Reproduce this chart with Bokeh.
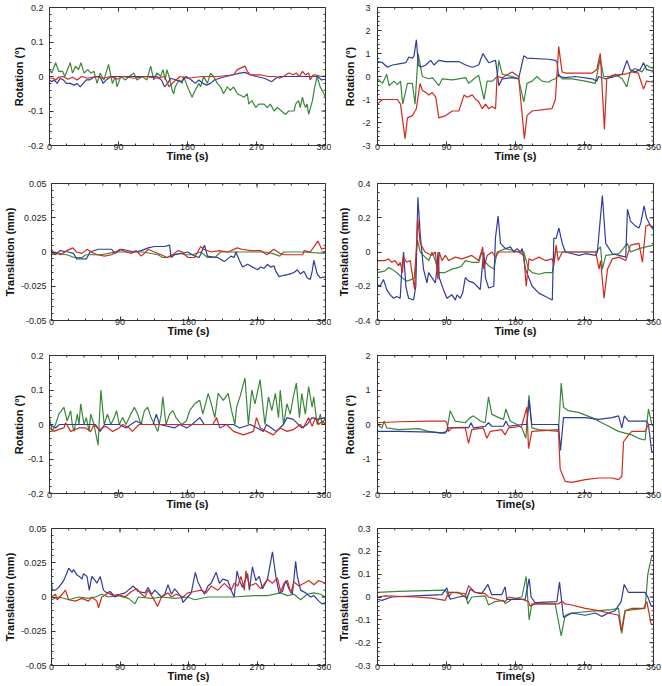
import numpy as np
from bokeh.plotting import figure
from bokeh.models import FixedTicker, CustomJSTickFormatter, Range1d
from bokeh.layouts import column, row
from bokeh.embed import file_html
from bokeh.resources import INLINE

RED = "#d0291e"
GREEN = "#3a873a"
BLUE = "#2f3b9e"

# ---------------- tick labels ----------------
time_ticks = [0, 90, 180, 270, 360]
rot_small_ticks = [-0.2, -0.1, 0, 0.1, 0.2]
rot_big3_ticks = [-3, -2, -1, 0, 1, 2, 3]
rot_big2_ticks = [-2, -1, 0, 1, 2]
tr_small_ticks = [-0.05, -0.025, 0, 0.025, 0.05]
tr_big4_ticks = [-0.4, -0.2, 0, 0.2, 0.4]
tr_big3_ticks = [-0.3, -0.2, -0.1, 0, 0.1, 0.2, 0.3]

# ---------------- data: [time (s), value] ----------------
# Panel 1: rotation (deg), row 1 left
p1_red = [[0,-0.005],[5,-0.005],[8,-0.01],[12,-0.002],[18,0.0],[24,-0.008],[30,-0.002],[36,-0.01],[42,0.0],[50,-0.005],[60,0.0],[70,-0.005],[80,0.0],[88,-0.008],[95,0.0],[110,-0.005],[125,0.0],[140,-0.005],[150,0.0],[156,-0.03],[160,-0.02],[165,-0.01],[170,0.0],[180,-0.005],[200,0.0],[220,0.0],[240,0.005],[245,0.02],[250,0.025],[255,0.03],[258,0.015],[262,0.005],[275,0.005],[285,0.0],[295,0.0],[300,-0.005],[305,0.0],[312,0.01],[318,0.005],[322,0.01],[326,0.0],[330,0.015],[334,0.005],[338,0.01],[340,-0.01],[344,0.005],[350,0.003],[355,0.0],[360,0.002]]
p1_green = [[0,0.02],[3,0.01],[8,0.04],[12,0.015],[17,0.015],[20,0.0],[27,0.04],[30,0.01],[34,0.03],[38,0.02],[41,0.04],[45,0.01],[50,0.02],[54,0.01],[58,0.015],[62,-0.02],[66,0.01],[71,-0.01],[77,0.035],[82,-0.02],[86,0.0],[88,-0.03],[93,0.0],[99,-0.01],[104,0.0],[110,0.01],[114,-0.01],[121,0.0],[127,-0.01],[132,0.03],[136,-0.01],[140,0.01],[145,0.0],[148,0.02],[151,-0.01],[153,0.02],[156,0.0],[160,-0.04],[162,-0.05],[164,-0.03],[169,-0.01],[173,-0.02],[175,0.0],[180,-0.03],[186,-0.06],[190,-0.04],[195,-0.02],[197,-0.03],[201,0.0],[206,-0.02],[210,0.01],[214,0.0],[219,-0.02],[223,-0.03],[227,-0.05],[232,-0.03],[236,-0.04],[240,-0.03],[245,-0.05],[254,-0.06],[258,-0.05],[260,-0.08],[264,-0.07],[269,-0.09],[273,-0.08],[280,-0.08],[284,-0.09],[288,-0.08],[293,-0.1],[297,-0.09],[308,-0.11],[312,-0.1],[319,-0.1],[321,-0.08],[325,-0.07],[327,-0.09],[330,-0.06],[332,-0.08],[334,-0.09],[336,-0.08],[338,-0.11],[343,-0.07],[346,-0.03],[349,0.0],[353,-0.03],[358,-0.05],[360,-0.06]]
p1_blue = [[0,-0.01],[3,-0.015],[6,-0.01],[10,-0.02],[14,-0.005],[18,-0.01],[22,-0.02],[27,-0.02],[32,-0.025],[36,-0.02],[40,-0.03],[44,-0.02],[48,-0.01],[52,-0.01],[56,-0.005],[60,0.0],[66,0.0],[70,-0.02],[74,-0.01],[80,0.0],[100,0.0],[120,0.0],[140,0.0],[146,-0.01],[150,-0.03],[154,-0.02],[158,-0.005],[165,-0.01],[172,-0.015],[178,0.0],[185,-0.01],[190,-0.02],[195,-0.01],[200,-0.02],[205,-0.025],[210,-0.02],[215,-0.01],[222,-0.005],[230,0.0],[240,0.005],[248,0.01],[255,0.012],[262,0.005],[270,0.0],[280,-0.005],[285,-0.01],[290,-0.015],[295,-0.005],[300,0.0],[310,0.0],[330,0.0],[340,0.0],[350,0.0],[355,-0.01],[360,-0.008]]

# Panel 2: rotation (deg), row 1 right
p2_red = [[0,-1.2],[6.5,-1.0],[26,-1.0],[30,-1.2],[36,-2.7],[39,-1.8],[45.5,-1.7],[49,-1.5],[50.7,-1.4],[55.5,-0.3],[58.5,-0.6],[63,-0.7],[67,-0.8],[71.5,-0.7],[76,-0.9],[80,-1.8],[89,-1.7],[97.5,-1.5],[106,-1.5],[108,-1.3],[113,-0.8],[117,-0.9],[123.6,-0.8],[128,-1.0],[132,-1.1],[136.6,-1.4],[141,-1.2],[145,-1.4],[149.6,-1.3],[154,-1.4],[156,0.0],[162.6,-0.05],[175.6,0.2],[184,0.0],[191.6,-2.7],[195,-1.7],[201.6,-1.5],[227.5,-1.4],[232,-1.0],[236.4,1.3],[240.7,0.2],[245,0.15],[280,0.15],[286,0.3],[290.6,1.0],[296,-2.3],[299,-0.1],[306,0.05],[323,0.1],[332,0.2],[340,0.15],[347,-0.55],[351,-0.2],[360,-0.25]]
p2_green = [[0,-0.1],[6.5,-0.3],[12,0.1],[15,-0.4],[21.5,-0.2],[26,-0.35],[30,-0.2],[33,-1.2],[39,-0.3],[45.5,-0.3],[49,-1.2],[53,1.0],[58.5,0.0],[67,-0.1],[71.5,-0.05],[80,-0.4],[84.5,-0.1],[97.5,-0.15],[106,-0.1],[115,-0.05],[119,-0.3],[126,-0.1],[132,0.05],[139,-1.0],[143,-0.2],[150,-0.2],[156,0.0],[158.3,0.7],[162.6,0.1],[175.6,0.0],[184,-0.1],[190.8,-1.1],[195,-0.3],[201.6,-0.2],[208,0.0],[214.5,-0.2],[223,-0.25],[227.5,-0.15],[232,-0.1],[236.4,0.1],[240.7,-0.1],[254,-0.1],[271,-0.2],[284,-0.3],[290.6,0.8],[295,0.0],[306,0.0],[310,0.1],[319,-0.1],[325.3,-0.45],[329.6,0.2],[336,0.35],[345,0.2],[351,0.5],[355.4,0.4],[360,0.35]]
p2_blue = [[0,0.65],[6.5,0.6],[13,0.4],[19.5,0.5],[28,0.55],[37,0.6],[41,0.85],[45.5,0.8],[47.7,0.9],[50.7,1.6],[53.3,0.5],[56.4,0.4],[63,0.5],[69.4,0.7],[73.7,0.5],[80,0.7],[89,0.65],[106,0.65],[115,0.5],[123.6,0.4],[132,0.5],[137.5,1.0],[141,0.8],[145,0.6],[149.6,0.65],[154,0.7],[156,0.2],[158.3,-0.4],[162.6,-0.1],[175.6,-0.05],[184,-0.1],[190.8,0.9],[195,0.8],[223,0.75],[232,0.7],[234,0.65],[236.4,0.0],[245,-0.05],[258,0.0],[280,-0.1],[286,-0.2],[288.4,0.0],[297,-0.1],[310,0.0],[319,0.1],[325.3,0.7],[329.6,0.3],[336,0.2],[342.6,0.3],[347,0.6],[351,0.3],[357.8,0.25],[360,0.25]]

# Panel 3: translation (mm), row 2 left
p3_red = [[0,-0.002],[5,0.0],[12,-0.002],[20,0.001],[28,0.003],[33,0.0],[40,-0.001],[47,0.002],[52,0.0],[60,-0.002],[70,-0.003],[79,-0.002],[85,0.0],[90,0.002],[98,0.0],[105,-0.001],[111,0.001],[118,-0.003],[124,0.0],[127,0.002],[135,0.0],[144,-0.002],[152,-0.004],[157,-0.003],[166,0.001],[172,0.0],[179,-0.004],[188,-0.004],[196,0.004],[200,0.002],[210,0.0],[220,0.001],[232,0.0],[244,0.003],[250,0.002],[262,0.001],[275,0.001],[283,-0.002],[292,0.002],[300,-0.001],[305,-0.002],[320,-0.002],[330,-0.002],[332,0.001],[340,0.0],[350,0.008],[355,0.002],[360,0.003]]
p3_green = [[0,-0.002],[10,-0.001],[20,-0.002],[30,-0.004],[40,-0.004],[45,-0.002],[65,-0.002],[75,-0.001],[83,0.0],[100,0.0],[120,0.0],[140,-0.002],[146,-0.004],[152,-0.004],[158,-0.002],[170,-0.001],[175,-0.002],[185,-0.002],[196,0.0],[205,-0.004],[215,-0.004],[222,0.0],[240,0.0],[280,0.0],[290,-0.001],[300,-0.003],[305,0.0],[330,0.0],[360,-0.001]]
p3_blue = [[0,0.002],[4.8,-0.002],[11,0.001],[22,0.0],[29,-0.001],[33,-0.005],[46,-0.005],[50.5,0.0],[61.5,0.002],[79,0.002],[83,-0.001],[92,0.002],[109,0.0],[118,0.001],[127,0.003],[135.5,0.004],[148.6,0.004],[155,0.005],[157.3,-0.004],[161.7,-0.002],[179,0.0],[188,-0.003],[194,-0.004],[201,0.005],[205,-0.003],[218,-0.004],[227,-0.007],[235.8,-0.003],[240,-0.004],[242.3,0.0],[246.7,-0.006],[251,-0.011],[257.6,-0.009],[270.6,-0.013],[275,-0.011],[279.3,-0.012],[283.7,-0.009],[288,-0.011],[292.4,-0.01],[294.6,-0.014],[299,-0.018],[305.5,-0.017],[314,-0.016],[318.6,-0.015],[323,-0.013],[327,-0.016],[331.6,-0.014],[336,-0.019],[340,-0.02],[342.5,-0.014],[344.7,-0.006],[349,-0.016],[353.4,-0.019],[360,-0.018]]

# Panel 4: translation (mm), row 2 right
p4_red = [[0,-0.05],[10,-0.05],[14.4,-0.04],[18.7,-0.06],[23,-0.05],[27.5,-0.08],[29.6,-0.06],[32.7,-0.12],[34,-0.03],[38,-0.06],[42.7,-0.05],[48.4,-0.22],[52.3,0.2],[55.8,0.05],[62,0.0],[71,-0.02],[75.4,0.0],[78.9,-0.16],[80.6,0.0],[84,-0.05],[88.5,-0.02],[93,-0.05],[101.5,-0.03],[110,-0.04],[123,-0.02],[132,-0.05],[137.3,0.03],[138.6,-0.1],[143,-0.02],[149.5,0.0],[154,-0.03],[158,0.0],[184,0.0],[190.8,-0.02],[194,-0.2],[197.5,-0.04],[201.8,-0.05],[210.5,-0.03],[219,-0.05],[228,-0.04],[230,-0.08],[233,0.04],[235.8,-0.05],[241,0.0],[284.6,0.0],[289,-0.1],[291,-0.05],[295.5,-0.27],[300,-0.1],[306.4,-0.04],[315,-0.03],[323.8,-0.05],[330,0.04],[341,0.05],[345.6,-0.06],[350,0.15],[354.4,0.16],[360,0.14]]
p4_green = [[0,-0.12],[10,-0.11],[14.4,-0.09],[18.7,-0.1],[25,-0.12],[31.8,-0.15],[38,-0.17],[44.9,-0.16],[48,-0.15],[52,0.07],[55.8,0.0],[62,-0.03],[67,-0.05],[71,0.0],[75.4,-0.05],[80,-0.12],[88,-0.12],[97,-0.1],[106,-0.09],[110,-0.08],[114.6,-0.05],[123,-0.06],[132,-0.06],[136.4,0.0],[140.8,-0.06],[145,-0.08],[151.7,-0.1],[156,0.0],[167,0.02],[184,0.0],[190.8,0.0],[197,-0.1],[201.8,-0.12],[210.5,-0.13],[219,-0.12],[228,-0.12],[232,0.0],[245,0.0],[284.6,0.0],[291,0.03],[293.3,-0.1],[297.7,-0.02],[315,-0.01],[326,0.05],[330,0.0],[341,0.02],[350,0.03],[360,0.04]]
p4_blue = [[0,-0.19],[3.5,-0.2],[7.8,-0.16],[12,-0.22],[16.6,-0.25],[21,-0.27],[25,-0.26],[29.6,-0.27],[31.8,-0.1],[34,0.0],[37,-0.2],[40.5,-0.27],[47,-0.28],[50,-0.2],[52.7,0.32],[55.8,0.1],[60,-0.1],[64.5,-0.18],[66.7,-0.12],[71,-0.15],[75.4,-0.18],[77.6,-0.1],[78.9,0.0],[80.6,-0.15],[86,-0.22],[90.6,-0.27],[97,-0.25],[101.5,-0.28],[103.7,-0.25],[108,-0.27],[111,-0.24],[114.6,-0.15],[119,-0.17],[125.5,-0.18],[130,-0.2],[134,-0.22],[136.4,-0.1],[138.6,0.0],[140.8,-0.15],[145,-0.21],[151.7,-0.2],[153.8,0.08],[157.3,0.21],[160.4,0.05],[167,0.02],[173.4,0.03],[177.8,0.0],[182,0.02],[186.5,0.0],[188.7,0.02],[193,-0.1],[201.8,-0.2],[210.5,-0.24],[219,-0.26],[228,-0.28],[230,0.08],[233,0.08],[236.6,0.14],[241,0.05],[245,0.0],[254,-0.01],[262.8,-0.02],[271.5,-0.01],[284.6,-0.02],[286.8,0.0],[293.3,0.33],[297.7,0.05],[306.4,-0.01],[315,-0.02],[323.8,-0.03],[326,0.25],[330,0.18],[336.9,0.15],[341,0.14],[343.4,0.17],[347.8,0.27],[350.8,0.2],[356.5,0.15],[360,0.13]]

# Panel 5: rotation (deg), row 3 left
p5_red = [[0,-0.01],[5.7,-0.02],[11,-0.015],[18.8,-0.01],[21,0.005],[27.6,-0.02],[38.5,-0.01],[47,-0.01],[53.8,-0.02],[58,0.0],[64.7,-0.015],[73.5,-0.005],[82.3,-0.02],[91,-0.01],[95.4,0.0],[104,-0.01],[108,-0.02],[117,0.0],[150,0.0],[213,0.0],[218,0.02],[222,-0.01],[231,0.0],[240,-0.02],[253,-0.03],[266,-0.02],[270,0.02],[275,-0.01],[283,-0.02],[292,-0.03],[301,-0.01],[310,-0.02],[318,-0.015],[327,0.0],[331,-0.01],[338,0.02],[342.5,-0.005],[347,0.02],[351,0.0],[356,0.01],[360,0.0]]
p5_green = [[0,0.02],[3.5,-0.02],[7.9,0.0],[12.2,0.03],[18.8,0.05],[23,0.01],[27.6,0.04],[29.7,0.0],[32,-0.02],[36.3,0.03],[38.5,0.0],[40.7,0.06],[45,0.0],[48,0.02],[51.6,-0.02],[53.8,0.03],[58,0.0],[63.4,-0.06],[64.7,0.0],[67,0.1],[71.3,0.0],[75.7,0.03],[80,0.0],[84.4,0.02],[87.5,0.04],[91,0.0],[95.4,0.02],[99.7,0.0],[106,0.03],[110.7,0.05],[115,0.03],[119.4,0.0],[123.8,0.04],[128,0.05],[132.5,0.02],[137,0.0],[141.3,-0.02],[145.7,0.03],[147.8,0.08],[152,0.0],[156.6,0.03],[161,0.04],[165,0.02],[172,0.0],[178.5,0.01],[182.8,0.04],[189.4,0.06],[196,0.07],[200,0.03],[207,0.09],[211,0.06],[215.6,0.02],[220,0.09],[226.6,0.07],[233,0.09],[237.5,0.04],[241.9,0.0],[244,0.05],[248.4,0.08],[255,0.135],[259.4,0.0],[263.8,0.1],[268,0.06],[274.7,0.13],[279,0.04],[281,0.0],[285.6,0.08],[290,0.04],[294.6,0.09],[298.7,0.02],[301,0.1],[305.3,0.0],[309.7,0.06],[314,0.03],[318,0.08],[322,0.12],[326,0.02],[329,0.09],[333.7,0.03],[338,0.11],[342.5,0.05],[344.7,0.08],[349,0.0],[353.4,0.03],[355.6,0.0],[360,0.02]]
p5_blue = [[0,0.0],[7.9,-0.01],[13,0.0],[60,0.0],[66,-0.02],[72,0.0],[91,0.0],[99.7,-0.01],[106,0.0],[113,0.01],[122,0.0],[135,0.0],[139.4,0.03],[143.5,0.0],[163,-0.01],[170,0.0],[179,-0.01],[186,0.0],[196,0.02],[202,0.0],[240,0.0],[248,-0.01],[262,0.0],[279,-0.02],[283,0.0],[296,-0.02],[305,0.0],[310,0.02],[318,0.015],[329,-0.01],[336,0.0],[342.5,0.02],[349,0.015],[360,0.02]]

# Panel 6: rotation (deg), row 3 right
p6_red = [[0,0.05],[27.4,0.08],[71,0.1],[88.2,0.1],[90.4,0.05],[92.6,-0.2],[97,-0.1],[114.6,-0.1],[118.7,-0.55],[123,-0.15],[138,-0.1],[142.6,-0.4],[147,-0.2],[162,-0.15],[166.5,-0.3],[171,-0.1],[188,-0.05],[194.8,0.5],[197,-0.7],[201.3,-0.2],[236,-0.15],[238.3,-1.3],[244.8,-1.65],[253.5,-1.68],[271,-1.6],[288.3,-1.55],[306,-1.55],[314.4,-1.6],[318.7,-1.5],[320.9,-0.5],[327.4,-0.3],[331.7,-0.2],[349,-0.2],[353.4,0.0],[360,0.0]]
p6_green = [[0,0.0],[5.7,-0.1],[8.7,0.1],[12,-0.1],[27.4,-0.15],[53.5,-0.12],[66.5,-0.2],[84,-0.25],[90.4,-0.2],[94.8,0.4],[101.3,0.1],[114.3,0.05],[120.9,0.2],[125.2,0.25],[134,0.1],[140.4,0.05],[144.8,0.8],[149,0.3],[158,0.2],[164.4,0.15],[167.4,0.45],[173,0.1],[182,0.0],[188.4,-0.1],[193.5,-0.4],[197.5,0.85],[201.3,-0.1],[210,-0.15],[236,-0.2],[239.6,1.2],[242.6,0.5],[249,0.4],[262,0.35],[279.6,0.2],[297,0.0],[314.4,-0.2],[323,-0.25],[331.7,-0.3],[340.4,-0.4],[349,-0.45],[353.4,0.45],[357.8,0.0],[360,-0.05]]
p6_blue = [[0,-0.2],[27.4,-0.2],[71,-0.22],[88.2,-0.25],[92.6,-0.1],[114.6,-0.08],[118.7,-0.1],[122,0.05],[125.2,-0.1],[140.4,-0.05],[144.8,0.05],[149,-0.05],[164.4,-0.05],[167.4,0.1],[171,-0.05],[188.4,0.0],[194.8,0.0],[197.8,0.7],[201.3,0.0],[236,0.0],[238.7,-0.75],[242.6,0.2],[271,0.2],[288.3,0.15],[306,0.2],[314.4,0.25],[318.7,-0.1],[322,0.25],[327.4,0.1],[351,0.1],[353.4,0.0],[357.8,-0.8],[360,-0.8]]

# Panel 7: translation (mm), row 4 left
p7_red = [[0,0.0],[5.2,0.002],[7.4,-0.002],[14,0.002],[18.3,0.005],[22.6,-0.002],[31.3,-0.003],[40,-0.001],[48.7,-0.003],[53,0.0],[59.6,-0.003],[61.8,-0.008],[66,0.0],[74.8,0.003],[81,0.001],[87.8,0.002],[96.6,0.0],[105,0.004],[111.8,0.006],[118.4,0.002],[122.8,0.0],[127,0.005],[135.8,-0.003],[139.3,-0.007],[144.5,0.0],[153,0.003],[157.6,0.0],[164,0.002],[172.8,0.0],[179,0.003],[188,0.004],[196.8,0.005],[203,0.003],[209.8,0.008],[218.5,0.005],[227,0.01],[236,0.005],[240,0.01],[244.7,0.008],[249,0.015],[253.4,0.005],[255.5,0.019],[260,0.008],[268.7,0.01],[275,0.006],[283.8,0.013],[290.3,0.01],[296.8,0.014],[301,0.004],[305.6,0.01],[310,0.012],[314.3,0.003],[318.6,0.011],[325,0.008],[331.7,0.01],[338,0.012],[344.8,0.009],[351.3,0.012],[360,0.01]]
p7_green = [[0,-0.002],[9.6,0.0],[22.6,-0.002],[35.7,0.0],[48.7,-0.001],[57.5,0.0],[66,0.002],[74.8,0.0],[87.8,0.001],[101,-0.001],[109.7,-0.005],[114,0.0],[131.5,-0.001],[144.5,0.0],[162,-0.001],[179,0.0],[188,-0.002],[205.5,0.0],[240,0.0],[266,0.001],[283.8,0.001],[301,0.003],[310,0.001],[318.6,0.002],[327.3,-0.002],[336,0.002],[344.8,0.003],[353.4,0.002],[360,0.0]]
p7_blue = [[0,0.012],[0.9,0.005],[5.2,0.005],[9.6,0.007],[16,0.012],[18.3,0.015],[22.6,0.021],[27,0.018],[29,0.02],[33.5,0.016],[36.6,0.015],[40,0.013],[42,0.017],[46.6,0.015],[49.6,0.005],[53,0.015],[57.5,0.012],[59.6,0.01],[64,0.015],[68.3,0.005],[72.7,0.003],[77,0.004],[83.6,0.0],[90,0.002],[96.6,0.003],[107.5,0.008],[114,0.004],[122.8,0.003],[127,0.007],[131.5,0.002],[135.8,0.005],[144.5,0.0],[148.9,0.002],[153,0.009],[157.6,0.002],[162,0.006],[170.6,0.0],[172.8,-0.004],[179,0.0],[183.6,0.003],[189,0.018],[192.4,0.011],[196.8,0.006],[201,0.002],[205.5,0.008],[209.8,0.01],[216.3,0.018],[220.7,0.01],[225,0.013],[231.5,0.012],[236,0.005],[240,0.0],[243.8,0.019],[247,0.012],[251,0.007],[257.7,0.017],[260,0.005],[264,0.022],[268.4,0.012],[273,0.015],[277.3,0.006],[283.8,0.013],[290.3,0.033],[294.7,0.015],[299,0.003],[303.4,0.004],[307.8,0.012],[312,0.006],[316.5,0.002],[320.8,0.026],[323,0.015],[327.3,0.005],[333.9,0.003],[340.4,0.0],[344.8,0.001],[351.3,-0.003],[355.6,-0.005],[360,-0.004]]

# Panel 8: translation (mm), row 4 right
p8_red = [[0,0.0],[10,0.005],[49,0.0],[71,-0.005],[88.2,-0.015],[92.6,0.02],[105.7,0.02],[114.3,0.0],[118.7,0.05],[127.4,0.02],[140.4,0.015],[144.8,0.0],[166.5,-0.02],[171,0.0],[188.4,-0.01],[197,-0.02],[199,-0.04],[205.6,-0.03],[236,-0.03],[240.4,-0.02],[244.8,-0.03],[253.5,-0.035],[271,-0.05],[288.3,-0.06],[301.3,-0.07],[314.4,-0.08],[317.8,-0.15],[323,-0.06],[331.7,-0.05],[347,-0.05],[351.3,-0.02],[357,-0.12],[360,-0.12]]
p8_green = [[0,0.02],[27.4,0.025],[88.2,0.03],[90.4,0.02],[92.6,0.0],[97,0.02],[114.3,0.015],[117.8,-0.03],[123,0.0],[140.4,0.005],[144.8,-0.035],[153.5,-0.02],[164.4,-0.015],[166.5,-0.03],[175.2,-0.01],[188.4,0.0],[193.9,0.09],[197.8,-0.1],[201.3,-0.03],[231.7,-0.03],[239.6,-0.17],[244.8,-0.08],[253.5,-0.07],[288.3,-0.06],[305.6,-0.055],[314.4,-0.05],[318.7,-0.16],[323,-0.06],[349,-0.05],[352.6,0.1],[357.8,0.18],[360,0.18]]
p8_blue = [[0,-0.01],[5.7,-0.015],[18.7,0.0],[49,0.005],[84,0.01],[90.4,0.04],[94.8,-0.01],[105.7,0.0],[114.3,0.005],[116.5,-0.01],[121,0.035],[127.4,0.02],[136,0.015],[144,0.055],[149,0.01],[162,0.01],[166.5,0.045],[168.7,-0.01],[192.6,-0.01],[197.8,0.08],[200.4,0.0],[205.6,-0.025],[234,-0.02],[237.4,0.065],[242.6,-0.09],[253.5,-0.07],[271,-0.08],[284,-0.07],[292.6,-0.085],[301.3,-0.07],[310,-0.06],[317.8,-0.02],[321.8,0.055],[327.4,0.02],[349,0.02],[352.6,0.0],[357,-0.04],[360,-0.04]]

ROT = "Rotation (\u00b0)"
TRA = "Translation (mm)"

panels = [
    (p1_red, p1_green, p1_blue, ROT, "Time (s)", rot_small_ticks, 0.02),
    (p2_red, p2_green, p2_blue, ROT, "Time (s)", rot_big3_ticks, 0.2),
    (p3_red, p3_green, p3_blue, TRA, "Time (s)", tr_small_ticks, 0.005),
    (p4_red, p4_green, p4_blue, TRA, "Time (s)", tr_big4_ticks, 0.05),
    (p5_red, p5_green, p5_blue, ROT, "Time (s)", rot_small_ticks, 0.02),
    (p6_red, p6_green, p6_blue, ROT, "Time(s)", rot_big2_ticks, 0.2),
    (p7_red, p7_green, p7_blue, TRA, "Time (s)", tr_small_ticks, 0.005),
    (p8_red, p8_green, p8_blue, TRA, "Time(s)", tr_big3_ticks, 0.02),
]

# row geometry: (figure height, min_border_top, min_border_bottom)
row_geom = [(176, 7, 31), (172, 7, 28), (173, 7, 28), (165, 7, 21)]
# column geometry: (figure width, min_border_left, min_border_right)
col_geom = [(331, 49, 6), (331, 46, 9)]
# y-axis (tick label standoff, axis label standoff) per panel
y_standoffs = [(6, 0), (7, 3), (5, 2), (7, 2), (6, 0), (7, 3), (5, 2), (7, 2)]

FONT = "Liberation Sans"
INK = "#333333"


def minor_list(lo, hi, step):
    n = int(round((hi - lo) / step))
    return [round(lo + i * step, 6) for i in range(n + 1)]


def style_axis(ax, ticker, label):
    ax.ticker = ticker
    ax.major_tick_in = 4
    ax.major_tick_out = 0
    ax.minor_tick_in = 2
    ax.minor_tick_out = 0
    ax.axis_line_color = INK
    ax.major_tick_line_color = INK
    ax.minor_tick_line_color = INK
    ax.formatter = CustomJSTickFormatter(code="return String(tick);")
    ax.major_label_text_font = FONT
    ax.major_label_text_font_size = "9px"
    ax.major_label_text_color = "#222222"
    ax.axis_label = label
    ax.axis_label_text_font = FONT
    ax.axis_label_text_font_size = "11px"
    ax.axis_label_text_font_style = "bold"
    ax.axis_label_text_color = "#111111"


def make_panel(idx):
    red, green, blue, ylab, xlab, yticks, ystep = panels[idx]
    r, c = divmod(idx, 2)
    h, bt, bb = row_geom[r]
    w, bl, br = col_geom[c]
    y0, y1 = yticks[0], yticks[-1]
    p = figure(width=w, height=h,
               x_range=Range1d(time_ticks[0], time_ticks[-1]),
               y_range=Range1d(y0, y1),
               output_backend="svg", toolbar_location=None,
               min_border_left=bl, min_border_right=br,
               min_border_top=bt, min_border_bottom=bb)
    p.xgrid.visible = False
    p.ygrid.visible = False
    p.outline_line_color = INK
    p.background_fill_color = "white"
    p.border_fill_color = "white"

    xminor = minor_list(time_ticks[0], time_ticks[-1], 22.5)
    yminor = minor_list(y0, y1, ystep)
    xt = FixedTicker(ticks=time_ticks, minor_ticks=xminor)
    yt = FixedTicker(ticks=yticks, minor_ticks=yminor)

    for s, col in ((green, GREEN), (blue, BLUE), (red, RED)):
        p.line([q[0] for q in s], [q[1] for q in s], line_color=col, line_width=1.2)

    bx = p.xaxis[0]
    style_axis(bx, xt, xlab)
    bx.major_label_standoff = -2
    bx.axis_label_standoff = -3

    ly = p.yaxis[0]
    style_axis(ly, yt, ylab)
    ly.major_label_standoff, ly.axis_label_standoff = y_standoffs[idx]

    # inward ticks on the top and right edges (clipped to the frame)
    p.scatter(time_ticks, [y1] * len(time_ticks), marker="dash", angle=np.pi / 2,
              size=8, line_color=INK, line_width=1)
    p.scatter(xminor, [y1] * len(xminor), marker="dash", angle=np.pi / 2,
              size=4, line_color=INK, line_width=1)
    p.scatter([time_ticks[-1]] * len(yticks), yticks, marker="dash",
              size=8, line_color=INK, line_width=1)
    p.scatter([time_ticks[-1]] * len(yminor), yminor, marker="dash",
              size=4, line_color=INK, line_width=1)
    return p


figs = [make_panel(i) for i in range(8)]
layout = column(*[row(figs[2 * k], figs[2 * k + 1]) for k in range(4)])

open("out.html", "w").write(file_html(layout, INLINE))
